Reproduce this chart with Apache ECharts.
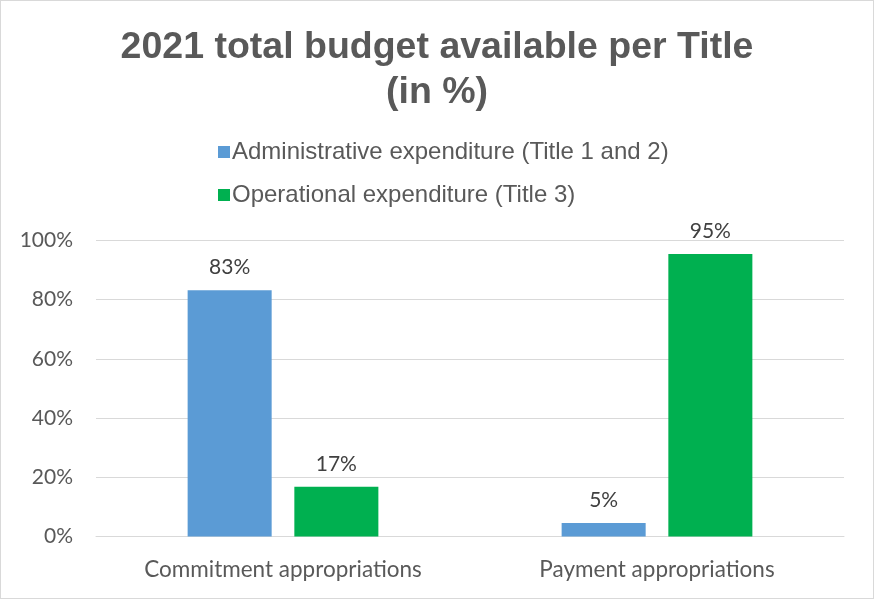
<!DOCTYPE html>
<html>
<head>
<meta charset="utf-8">
<script src="https://cdn.jsdelivr.net/npm/echarts@6/dist/echarts.min.js"></script>
<style>
html,body{margin:0;padding:0;background:#fff;}
#c{width:874px;height:599px;box-sizing:border-box;border:1px solid #d9d9d9;}
</style>
</head>
<body>
<div id="c"></div>
<script>
const categories = ['Commitment appropriations', 'Payment appropriations'];
const seriesNames = ['Administrative expenditure (Title 1 and 2)', 'Operational expenditure (Title 3)'];
const adminValues = [83.2, 4.6];
const operationalValues = [16.8, 95.4];
const yTicks = [0, 20, 40, 60, 80, 100];

const chart = echarts.init(document.getElementById('c'));
const labelFont = 'Lato';
chart.setOption({
  animation: false,
  backgroundColor: '#ffffff',
  title: {
    text: '2021 total budget available per Title\n(in %)',
    left: 'center',
    top: 19,
    textStyle: {
      fontFamily: 'Liberation Sans',
      fontWeight: 'bold',
      fontSize: 37.5,
      color: '#595959',
      lineHeight: 45
    }
  },
  legend: {
    orient: 'vertical',
    left: 212,
    top: 134,
    itemWidth: 12,
    itemHeight: 12,
    itemGap: 19,
    icon: 'rect',
    textStyle: {
      fontFamily: 'Liberation Sans',
      fontSize: 24,
      color: '#595959',
      padding: [0, 0, 0, -3]
    },
    data: seriesNames
  },
  grid: {
    left: 95,
    right: 29,
    top: 239.5,
    bottom: 61.5,
    containLabel: false
  },
  xAxis: {
    type: 'category',
    data: categories,
    axisLine: { show: true, lineStyle: { color: '#d9d9d9', width: 1 } },
    axisTick: { show: false },
    axisLabel: {
      fontFamily: labelFont,
      fontSize: 22.5,
      color: '#595959',
      margin: 22
    }
  },
  yAxis: {
    type: 'value',
    min: 0,
    max: 100,
    interval: 20,
    axisLine: { show: false },
    axisTick: { show: false },
    splitLine: { lineStyle: { color: '#d9d9d9', width: 1 } },
    axisLabel: {
      fontFamily: labelFont,
      fontSize: 21,
      color: '#595959',
      margin: 23,
      formatter: v => yTicks.includes(v) ? v + '%' : ''
    }
  },
  series: [
    {
      name: seriesNames[0],
      type: 'bar',
      data: adminValues,
      barGap: '27%',
      barCategoryGap: '49%',
      itemStyle: { color: '#5b9bd5' },
      label: {
        show: true,
        position: 'top',
        distance: 12,
        fontFamily: labelFont,
        fontSize: 21,
        color: '#404040',
        formatter: p => Math.round(p.value) + '%'
      }
    },
    {
      name: seriesNames[1],
      type: 'bar',
      data: operationalValues,
      itemStyle: { color: '#00b050' },
      label: {
        show: true,
        position: 'top',
        distance: 12,
        fontFamily: labelFont,
        fontSize: 21,
        color: '#404040',
        formatter: p => Math.round(p.value) + '%'
      }
    }
  ]
});
</script>
</body>
</html>
